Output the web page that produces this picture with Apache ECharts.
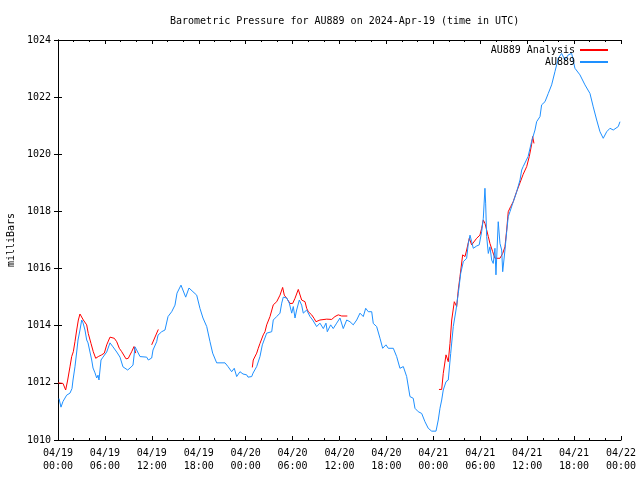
<!DOCTYPE html>
<html>
<head>
<meta charset="utf-8">
<script src="https://cdn.jsdelivr.net/npm/echarts@6/dist/echarts.min.js"></script>
<style>html,body{margin:0;padding:0;background:#fff}#c{width:640px;height:480px}</style>
</head>
<body>
<div id="c"></div>
<script>
// hours since 2024-04-19 00:00 UTC
var tickLabels = ['04/19\n00:00','04/19\n06:00','04/19\n12:00','04/19\n18:00','04/20\n00:00','04/20\n06:00','04/20\n12:00','04/20\n18:00','04/21\n00:00','04/21\n06:00','04/21\n12:00','04/21\n18:00','04/22\n00:00'];

var au889Hours = [0.13,0.38,0.64,1.11,1.53,1.79,1.92,2.17,2.39,2.56,2.81,3.03,3.2,3.45,3.67,3.84,4.09,4.31,4.48,4.73,4.95,5.12,5.24,5.5,5.75,6.23,6.65,7.03,7.51,7.93,8.31,8.91,9.21,9.59,9.85,10.06,10.49,11.34,11.55,11.98,12.15,12.62,12.79,13.26,13.68,14.07,14.54,14.96,15.22,15.73,16.33,16.75,17.26,17.74,18.16,18.54,19.02,19.44,19.78,20.29,21.36,21.74,22.21,22.54,22.85,23.27,23.66,24.13,24.3,24.77,24.94,25.41,25.83,26.13,26.69,27.33,27.53,27.97,28.39,28.61,28.81,29.25,29.58,29.89,30.09,30.31,30.52,30.86,31.16,31.37,31.8,32.23,32.57,33.08,33.5,33.93,34.27,34.44,34.87,35.2,35.64,36.06,36.48,36.92,37.34,37.76,38.2,38.62,39.04,39.35,39.68,40.12,40.32,40.75,41.18,41.52,41.94,42.24,42.88,43.31,43.73,44.16,44.59,45.01,45.43,45.65,46.07,46.51,46.93,47.35,47.79,48.34,48.63,48.85,49.07,49.27,49.62,49.91,50.22,50.55,50.9,51.19,51.5,51.83,52.26,52.47,52.69,52.9,53.11,53.54,53.87,54.18,54.39,54.6,54.69,54.82,55.03,55.24,55.46,55.66,55.88,56.01,56.3,56.52,56.74,56.87,57.16,57.38,57.58,57.8,58.22,58.66,59.08,59.3,59.49,60.12,60.56,61.0,61.21,61.64,61.85,62.28,62.7,63.13,63.55,63.98,64.41,64.83,65.26,65.69,66.11,66.75,67.39,68.03,68.45,68.89,69.31,69.73,70.17,70.59,71.01,71.23,71.65,71.87];
var au889Values = [1011.45,1011.15,1011.35,1011.57,1011.64,1011.8,1012.1,1012.56,1013.08,1013.5,1013.85,1014.2,1014.1,1013.85,1013.5,1013.4,1013.08,1012.8,1012.52,1012.35,1012.17,1012.27,1012.1,1012.8,1012.9,1013.08,1013.4,1013.26,1013.08,1012.9,1012.56,1012.45,1012.52,1012.62,1013.26,1013.22,1012.92,1012.9,1012.8,1012.87,1013.15,1013.44,1013.67,1013.79,1013.85,1014.32,1014.49,1014.72,1015.14,1015.42,1015.0,1015.32,1015.19,1015.07,1014.6,1014.27,1013.97,1013.44,1013.04,1012.7,1012.7,1012.57,1012.39,1012.51,1012.22,1012.39,1012.31,1012.28,1012.2,1012.22,1012.34,1012.57,1012.92,1013.33,1013.74,1013.79,1014.2,1014.32,1014.44,1014.79,1015.0,1014.97,1014.79,1014.44,1014.67,1014.27,1014.55,1014.9,1014.72,1014.44,1014.55,1014.32,1014.2,1013.97,1014.09,1013.9,1014.09,1013.79,1014.03,1013.9,1014.09,1014.27,1013.9,1014.2,1014.14,1014.03,1014.2,1014.44,1014.32,1014.61,1014.49,1014.49,1014.08,1013.97,1013.56,1013.21,1013.33,1013.21,1013.21,1012.92,1012.51,1012.57,1012.22,1011.52,1011.46,1011.11,1010.99,1010.93,1010.64,1010.41,1010.31,1010.31,1010.7,1011.11,1011.4,1011.75,1012.04,1012.1,1013.03,1013.97,1014.55,1015.13,1015.83,1016.24,1016.36,1016.88,1017.17,1016.94,1016.71,1016.79,1016.83,1017.29,1017.76,1018.81,1018.29,1017.12,1016.53,1016.76,1016.3,1016.18,1016.71,1015.78,1017.64,1016.88,1016.65,1015.89,1016.65,1017.29,1017.82,1017.99,1018.34,1018.69,1019.1,1019.45,1019.57,1019.92,1020.44,1020.85,1021.14,1021.32,1021.73,1021.84,1022.13,1022.43,1022.89,1023.36,1023.53,1023.3,1023.48,1023.53,1023.01,1022.78,1022.43,1022.13,1021.66,1021.2,1020.79,1020.56,1020.79,1020.91,1020.85,1020.91,1020.97,1021.14];

var analysisSeg1Hours = [0.0,0.64,0.98,1.24,1.53,1.75,1.96,2.17,2.39,2.6,2.81,3.24,3.67,3.87,4.22,4.51,4.82,5.15,5.59,5.92,6.23,6.65,7.2,7.51,7.84,8.15,8.7,8.99,9.42,9.72,9.94];
var analysisSeg1Values = [1012.0,1011.98,1011.75,1012.1,1012.56,1012.92,1013.09,1013.44,1013.85,1014.2,1014.41,1014.2,1014.03,1013.73,1013.38,1013.09,1012.86,1012.92,1012.98,1013.04,1013.33,1013.6,1013.56,1013.44,1013.21,1013.09,1012.84,1012.86,1013.09,1013.27,1013.04];
var analysisSeg2Hours = [11.98,12.83];
var analysisSeg2Values = [1013.33,1013.87];
var analysisSeg3Hours = [24.85,24.97,25.19,25.41,25.61,25.83,26.05,26.25,26.47,26.69,27.11,27.53,27.97,28.39,28.73,28.94,29.25,29.67,30.01,30.31,30.73,31.16,31.59,31.8,32.01,32.44,32.74,32.99,33.5,34.36,35.0,35.42,35.84,36.28,37.0];
var analysisSeg3Values = [1012.54,1012.8,1012.86,1013.04,1013.21,1013.38,1013.44,1013.68,1013.79,1014.03,1014.32,1014.73,1014.84,1015.07,1015.34,1015.07,1014.96,1014.78,1014.78,1014.96,1015.27,1014.9,1014.84,1014.61,1014.49,1014.38,1014.26,1014.14,1014.2,1014.23,1014.22,1014.32,1014.38,1014.34,1014.34];
var analysisSeg4Hours = [48.72,49.07,49.27,49.62,49.91,50.13,50.35,50.68,50.99,51.19,51.41,51.75,52.05,52.26,52.6,52.9,53.11,53.54,53.96,54.18,54.39,54.6,54.82,55.03,55.24,55.59,55.88,56.1,56.52,56.87,57.16,57.38,57.58,57.89,58.22,58.66,59.08,59.49,59.94,60.27,60.56,60.7,60.87];
var analysisSeg4Values = [1011.77,1011.77,1012.33,1012.98,1012.74,1013.38,1014.2,1014.84,1014.67,1015.25,1015.72,1016.48,1016.42,1016.65,1017.06,1016.83,1016.88,1017.06,1017.17,1017.41,1017.7,1017.58,1017.35,1017.12,1016.88,1016.59,1016.36,1016.33,1016.36,1016.53,1016.76,1017.35,1017.99,1018.17,1018.34,1018.7,1019.0,1019.3,1019.57,1019.92,1020.33,1020.62,1020.38];

function pairs(h, v) { return h.map(function (x, i) { return [x, v[i]]; }); }
var analysisData = [];
[[analysisSeg1Hours, analysisSeg1Values],[analysisSeg2Hours, analysisSeg2Values],[analysisSeg3Hours, analysisSeg3Values],[analysisSeg4Hours, analysisSeg4Values]].forEach(function (s, i) {
  if (i > 0) analysisData.push([s[0][0] - 0.01, '-']);
  analysisData = analysisData.concat(pairs(s[0], s[1]));
});
var au889Data = pairs(au889Hours, au889Values);

var FONT = 'DejaVu Sans Mono';
var chart = echarts.init(document.getElementById('c'), null, {renderer: 'canvas'});
var axisLine = {show: true, lineStyle: {color: '#000', width: 1}};
var xBase = {
  type: 'value', min: 0, max: 72, interval: 6,
  axisLine: axisLine,
  axisTick: {show: true, inside: true, length: 4, lineStyle: {color: '#000'}},
  minorTick: {show: true, splitNumber: 3, length: 2, lineStyle: {color: '#000'}},
  splitLine: {show: false}
};
var yBase = {
  type: 'value', min: 1010, max: 1024, interval: 2,
  axisLine: axisLine,
  axisTick: {show: true, inside: true, length: 4, lineStyle: {color: '#000'}},
  splitLine: {show: false}
};
chart.setOption({
  animation: false,
  backgroundColor: '#fff',
  title: {
    text: 'Barometric Pressure for AU889 on 2024-Apr-19 (time in UTC)',
    left: 165, top: 11,
    textStyle: {fontFamily: FONT, fontSize: 10, fontWeight: 'normal', color: '#000'}
  },
  legend: {
    orient: 'vertical', right: 27, top: 39, align: 'right',
    itemWidth: 28, itemHeight: 2, itemGap: 0, icon: 'rect',
    textStyle: {fontFamily: FONT, fontSize: 10, color: '#000', lineHeight: 12},
    data: ['AU889 Analysis', 'AU889']
  },
  grid: {left: 58, right: 19, top: 40, bottom: 40, containLabel: false, outerBoundsMode: 'none'},
  xAxis: [
    Object.assign({}, xBase, {
      position: 'bottom',
      axisLabel: {
        margin: 7, fontFamily: FONT, fontSize: 10, color: '#000', lineHeight: 13,
        formatter: function (v) { return tickLabels[Math.round(v / 6)]; }
      }
    }),
    Object.assign({}, xBase, {position: 'top', axisLabel: {show: false}})
  ],
  yAxis: [
    Object.assign({}, yBase, {
      position: 'left',
      name: 'milliBars', nameLocation: 'middle', nameGap: 42, nameRotate: 90,
      nameTextStyle: {fontFamily: FONT, fontSize: 10, color: '#000'},
      axisLabel: {margin: 7, fontFamily: FONT, fontSize: 10, color: '#000',
        formatter: function (v) { return String(v); }}
    }),
    Object.assign({}, yBase, {position: 'right', axisLabel: {show: false}})
  ],
  series: [
    {
      name: 'AU889 Analysis', type: 'line', data: analysisData,
      showSymbol: false, symbol: 'none', connectNulls: false,
      lineStyle: {color: '#ff0000', width: 1}, itemStyle: {color: '#ff0000'}
    },
    {
      name: 'AU889', type: 'line', data: au889Data,
      showSymbol: false, symbol: 'none',
      lineStyle: {color: '#1e90ff', width: 1}, itemStyle: {color: '#1e90ff'}
    }
  ]
});
</script>
</body>
</html>
